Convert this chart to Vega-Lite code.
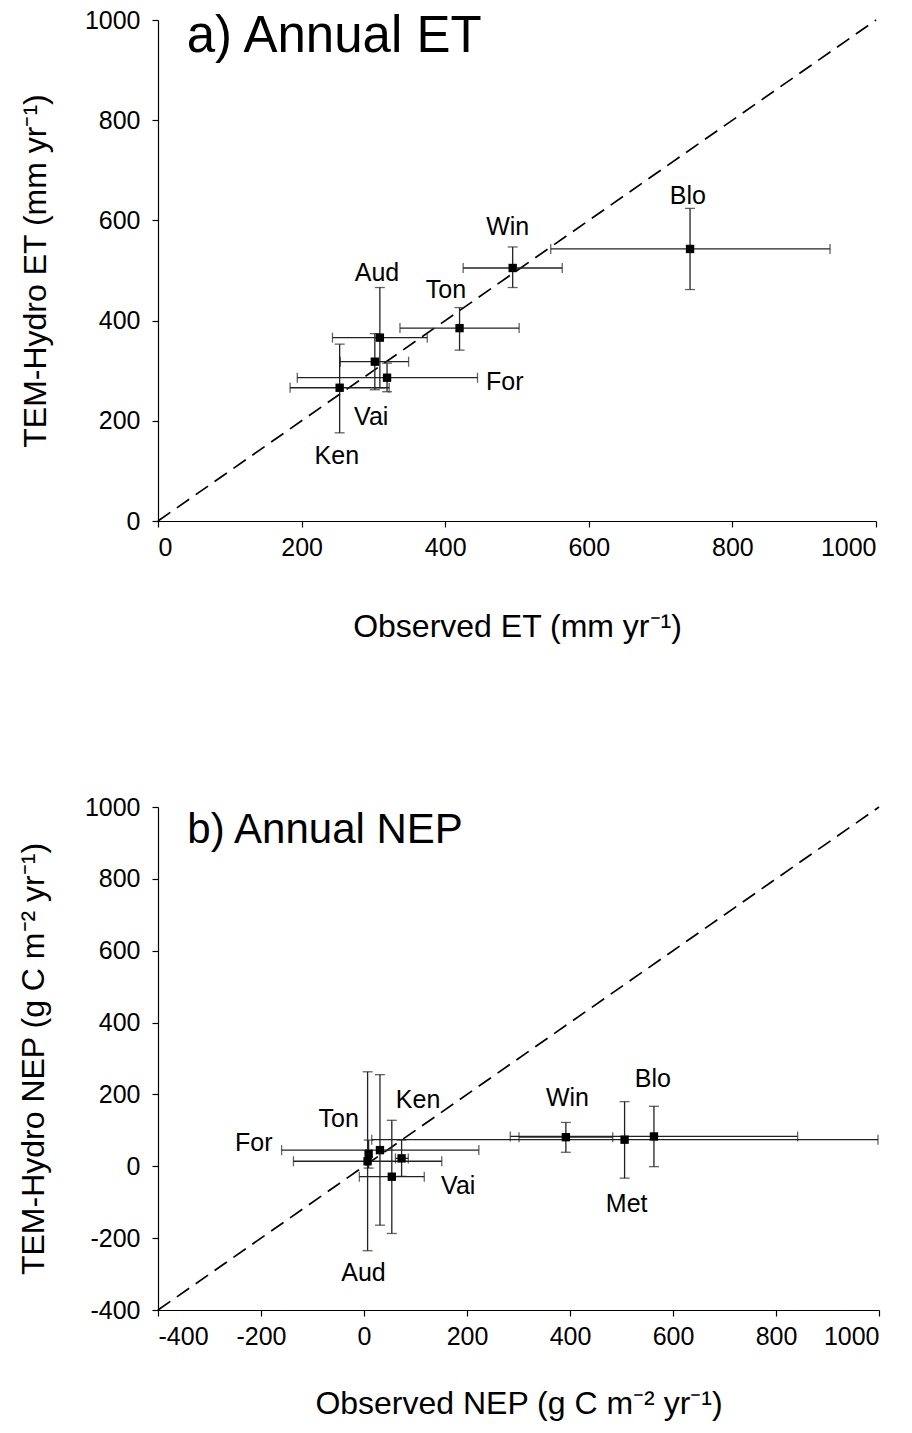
{
  "$schema": "https://vega.github.io/schema/vega-lite/v6.json",
  "background": "white",
  "padding": {"left": 17, "top": 8, "right": 5, "bottom": 5},
  "bounds": "full",
  "align": "none",
  "spacing": 153,
  "datasets": {
    "et": [
      {"site": "Aud", "obs": 309, "obs_lo": 243, "obs_hi": 375, "mod": 366, "mod_lo": 266, "mod_hi": 466},
      {"site": "Vai", "obs": 302, "obs_lo": 254, "obs_hi": 349, "mod": 318, "mod_lo": 262, "mod_hi": 374},
      {"site": "For", "obs": 319, "obs_lo": 194, "obs_hi": 445, "mod": 286, "mod_lo": 258, "mod_hi": 315},
      {"site": "Ken", "obs": 253, "obs_lo": 184, "obs_hi": 322, "mod": 266, "mod_lo": 176, "mod_hi": 353},
      {"site": "Ton", "obs": 420, "obs_lo": 337, "obs_hi": 503, "mod": 385, "mod_lo": 341, "mod_hi": 426},
      {"site": "Win", "obs": 494, "obs_lo": 425, "obs_hi": 563, "mod": 505, "mod_lo": 466, "mod_hi": 547},
      {"site": "Blo", "obs": 741, "obs_lo": 547, "obs_hi": 936, "mod": 543, "mod_lo": 462, "mod_hi": 624}
    ],
    "et_labels": [
      {"site": "Aud", "lx": 305, "ly": 495},
      {"site": "Ton", "lx": 401, "ly": 461},
      {"site": "Win", "lx": 487, "ly": 587},
      {"site": "Blo", "lx": 738, "ly": 649},
      {"site": "For", "lx": 483, "ly": 277},
      {"site": "Vai", "lx": 297, "ly": 207},
      {"site": "Ken", "lx": 249, "ly": 130}
    ],
    "nep": [
      {"site": "For", "obs": 31, "obs_lo": -160, "obs_hi": 223, "mod": 45, "mod_lo": -164, "mod_hi": 255},
      {"site": "Ton", "obs": 9, "obs_lo": 4, "obs_hi": 14, "mod": 34, "mod_lo": -5, "mod_hi": 73},
      {"site": "Ken", "obs": 73, "obs_lo": 61, "obs_hi": 86, "mod": 22, "mod_lo": -28, "mod_hi": 73},
      {"site": "Vai", "obs": 54, "obs_lo": -9, "obs_hi": 117, "mod": -29, "mod_lo": -187, "mod_hi": 128},
      {"site": "Aud", "obs": 7, "obs_lo": -137, "obs_hi": 151, "mod": 14, "mod_lo": -235, "mod_hi": 263},
      {"site": "Win", "obs": 392, "obs_lo": 301, "obs_hi": 483, "mod": 81, "mod_lo": 39, "mod_hi": 122},
      {"site": "Met", "obs": 506, "obs_lo": 15, "obs_hi": 998, "mod": 74, "mod_lo": -33, "mod_hi": 180},
      {"site": "Blo", "obs": 563, "obs_lo": 284, "obs_hi": 842, "mod": 83, "mod_lo": -1, "mod_hi": 167}
    ],
    "nep_labels": [
      {"site": "For", "lx": -214, "ly": 65},
      {"site": "Ton", "lx": -49, "ly": 132},
      {"site": "Ken", "lx": 105, "ly": 185},
      {"site": "Vai", "lx": 183, "ly": -56},
      {"site": "Aud", "lx": -1, "ly": -297},
      {"site": "Win", "lx": 395, "ly": 190},
      {"site": "Blo", "lx": 561, "ly": 243},
      {"site": "Met", "lx": 510, "ly": -105}
    ]
  },
  "vconcat": [
    {
      "width": 718,
      "height": 501,
      "layer": [
        {
          "data": {"values": [{"a": 0, "b": 1000}]},
          "mark": {"type": "rule", "color": "black", "strokeWidth": 1.7, "strokeDash": [15, 8]},
          "encoding": {
            "x": {"field": "a", "type": "quantitative", "title": "Observed ET (mm yr⁻¹)", "scale": {"domain": [0, 1000], "nice": false},
                  "axis": {"values": [0, 200, 400, 600, 800, 1000], "titlePadding": 51}},
            "y": {"field": "a", "type": "quantitative", "title": "TEM-Hydro ET (mm yr⁻¹)", "scale": {"domain": [0, 1000], "nice": false},
                  "axis": {"values": [0, 200, 400, 600, 800, 1000]}},
            "x2": {"field": "b"},
            "y2": {"field": "b"}
          }
        },
        {
          "data": {"name": "et"},
          "mark": {"type": "errorbar", "color": "#222", "thickness": 1.3, "ticks": {"size": 10, "thickness": 1.3}},
          "encoding": {
            "x": {"field": "obs_lo", "type": "quantitative", "title": "Observed ET (mm yr⁻¹)"},
            "x2": {"field": "obs_hi"},
            "y": {"field": "mod", "type": "quantitative", "title": "TEM-Hydro ET (mm yr⁻¹)"}
          }
        },
        {
          "data": {"name": "et"},
          "mark": {"type": "errorbar", "color": "#222", "thickness": 1.3, "ticks": {"size": 10, "thickness": 1.3}},
          "encoding": {
            "y": {"field": "mod_lo", "type": "quantitative", "title": "TEM-Hydro ET (mm yr⁻¹)"},
            "y2": {"field": "mod_hi"},
            "x": {"field": "obs", "type": "quantitative", "title": "Observed ET (mm yr⁻¹)"}
          }
        },
        {
          "data": {"name": "et"},
          "mark": {"type": "square", "color": "black", "filled": true, "opacity": 1, "size": 70},
          "encoding": {
            "x": {"field": "obs", "type": "quantitative", "title": "Observed ET (mm yr⁻¹)"},
            "y": {"field": "mod", "type": "quantitative", "title": "TEM-Hydro ET (mm yr⁻¹)"}
          }
        },
        {
          "data": {"name": "et_labels"},
          "mark": {"type": "text", "font": "Liberation Sans", "fontSize": 25, "color": "black", "align": "center", "baseline": "middle"},
          "encoding": {
            "x": {"field": "lx", "type": "quantitative", "title": "Observed ET (mm yr⁻¹)"},
            "y": {"field": "ly", "type": "quantitative", "title": "TEM-Hydro ET (mm yr⁻¹)"},
            "text": {"field": "site"}
          }
        },
        {
          "data": {"values": [{"panel": "a) Annual ET"}]},
          "mark": {"type": "text", "font": "Liberation Sans", "fontSize": 51, "color": "black", "align": "left", "baseline": "alphabetic"},
          "encoding": {
            "x": {"datum": 40, "type": "quantitative", "title": "Observed ET (mm yr⁻¹)"},
            "y": {"datum": 936, "type": "quantitative", "title": "TEM-Hydro ET (mm yr⁻¹)"},
            "text": {"field": "panel"}
          }
        }
      ]
    },
    {
      "width": 721,
      "height": 503,
      "layer": [
        {
          "data": {"values": [{"a": -400, "b": 1000}]},
          "mark": {"type": "rule", "color": "black", "strokeWidth": 1.7, "strokeDash": [15, 8]},
          "encoding": {
            "x": {"field": "a", "type": "quantitative", "title": "Observed NEP (g C m⁻² yr⁻¹)", "scale": {"domain": [-400, 1000], "nice": false},
                  "axis": {"values": [-400, -200, 0, 200, 400, 600, 800, 1000], "titlePadding": 39}},
            "y": {"field": "a", "type": "quantitative", "title": "TEM-Hydro NEP (g C m⁻² yr⁻¹)", "scale": {"domain": [-400, 1000], "nice": false},
                  "axis": {"titlePadding": 34, "values": [-400, -200, 0, 200, 400, 600, 800, 1000]}},
            "x2": {"field": "b"},
            "y2": {"field": "b"}
          }
        },
        {
          "data": {"name": "nep"},
          "mark": {"type": "errorbar", "color": "#222", "thickness": 1.3, "ticks": {"size": 10, "thickness": 1.3}},
          "encoding": {
            "x": {"field": "obs_lo", "type": "quantitative", "title": "Observed NEP (g C m⁻² yr⁻¹)"},
            "x2": {"field": "obs_hi"},
            "y": {"field": "mod", "type": "quantitative", "title": "TEM-Hydro NEP (g C m⁻² yr⁻¹)"}
          }
        },
        {
          "data": {"name": "nep"},
          "mark": {"type": "errorbar", "color": "#222", "thickness": 1.3, "ticks": {"size": 10, "thickness": 1.3}},
          "encoding": {
            "y": {"field": "mod_lo", "type": "quantitative", "title": "TEM-Hydro NEP (g C m⁻² yr⁻¹)"},
            "y2": {"field": "mod_hi"},
            "x": {"field": "obs", "type": "quantitative", "title": "Observed NEP (g C m⁻² yr⁻¹)"}
          }
        },
        {
          "data": {"name": "nep"},
          "mark": {"type": "square", "color": "black", "filled": true, "opacity": 1, "size": 70},
          "encoding": {
            "x": {"field": "obs", "type": "quantitative", "title": "Observed NEP (g C m⁻² yr⁻¹)"},
            "y": {"field": "mod", "type": "quantitative", "title": "TEM-Hydro NEP (g C m⁻² yr⁻¹)"}
          }
        },
        {
          "data": {"name": "nep_labels"},
          "mark": {"type": "text", "font": "Liberation Sans", "fontSize": 25, "color": "black", "align": "center", "baseline": "middle"},
          "encoding": {
            "x": {"field": "lx", "type": "quantitative", "title": "Observed NEP (g C m⁻² yr⁻¹)"},
            "y": {"field": "ly", "type": "quantitative", "title": "TEM-Hydro NEP (g C m⁻² yr⁻¹)"},
            "text": {"field": "site"}
          }
        },
        {
          "data": {"values": [{"panel": "b) Annual NEP"}]},
          "mark": {"type": "text", "font": "Liberation Sans", "fontSize": 42, "color": "black", "align": "left", "baseline": "alphabetic"},
          "encoding": {
            "x": {"datum": -343, "type": "quantitative", "title": "Observed NEP (g C m⁻² yr⁻¹)"},
            "y": {"datum": 900, "type": "quantitative", "title": "TEM-Hydro NEP (g C m⁻² yr⁻¹)"},
            "text": {"field": "panel"}
          }
        }
      ]
    }
  ],
  "config": {
    "view": {"stroke": null},
    "font": "Liberation Sans",
    "axis": {
      "grid": false,
      "domainColor": "black",
      "domainWidth": 1.2,
      "tickColor": "black",
      "tickWidth": 1.2,
      "tickSize": 6,
      "labelColor": "black",
      "labelFont": "Liberation Sans",
      "labelFontSize": 25,
      "labelExpr": "datum.value + ''",
      "titleColor": "black",
      "titleFont": "Liberation Sans",
      "titleFontSize": 32,
      "titleFontWeight": "normal"
    },
    "axisX": {"labelPadding": 8},
    "axisY": {"labelPadding": 12, "titlePadding": 32}
  }
}
